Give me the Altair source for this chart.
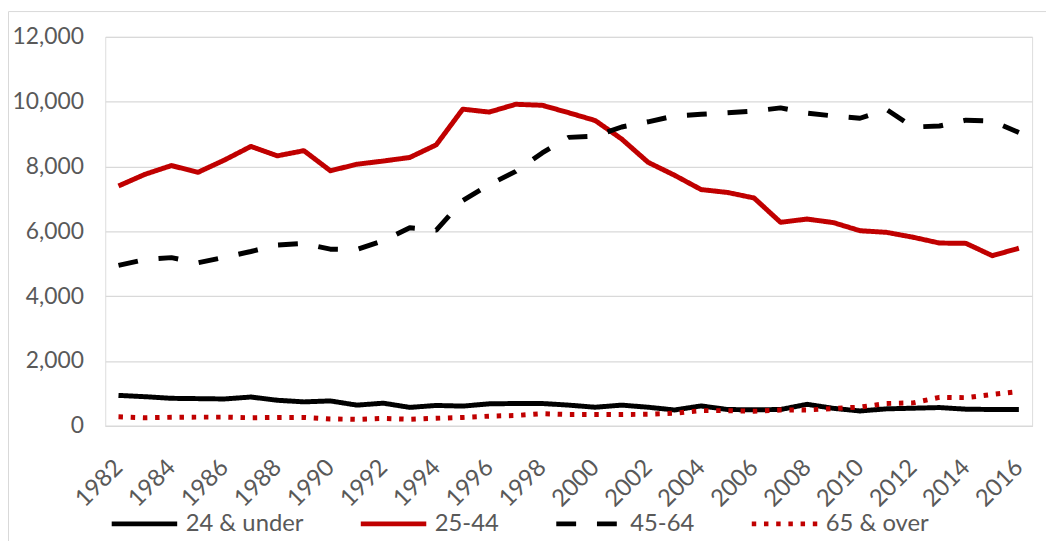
import altair as alt
import pandas as pd

years = list(range(1982, 2017))
series_names = ["24 & under", "25-44", "45-64", "65 & over"]

age_24_under = [940, 900, 850, 840, 830, 890, 790, 740, 770, 640, 700, 570, 630, 610, 680, 690, 690,
                640, 575, 640, 575, 490, 615, 505, 495, 505, 665, 540, 460, 525, 545, 565, 515, 505, 505]
age_25_44 = [7400, 7760, 8030, 7820, 8200, 8620, 8330, 8490, 7870, 8070, 8170, 8280, 8670, 9770, 9680,
             9920, 9890, 9660, 9420, 8850, 8130, 7730, 7290, 7200, 7030, 6280, 6380, 6270, 6020, 5970,
             5820, 5640, 5630, 5250, 5480]
age_45_64 = [4950, 5130, 5190, 5030, 5200, 5380, 5580, 5630, 5450, 5440, 5710, 6110, 6040, 6950, 7440,
             7850, 8420, 8900, 8940, 9220, 9380, 9560, 9610, 9660, 9710, 9810, 9650, 9560, 9490, 9760,
             9220, 9250, 9430, 9400, 9050]
age_65_over = [280, 250, 265, 270, 270, 250, 260, 260, 215, 200, 230, 205, 235, 260, 300, 320, 375,
               350, 350, 350, 360, 390, 470, 470, 450, 490, 490, 535, 580, 690, 710, 880, 870, 970, 1060]

axis_years = years[::2]
y_ticks = [0, 2000, 4000, 6000, 8000, 10000, 12000]

rows = []
for name, vals in zip(series_names, [age_24_under, age_25_44, age_45_64, age_65_over]):
    for yr, v in zip(years, vals):
        rows.append({"year": yr, "series": name, "value": v})
df = pd.DataFrame(rows)

FONT = "Lato"
TXT = "#595959"
GRID = "#d9d9d9"

legend = alt.Legend(
    orient="none", legendX=4, legendY=455, direction="horizontal", title=None,
    symbolType="stroke", symbolSize=4356, symbolStrokeWidth=5,
    labelFontSize=24, labelColor=TXT, labelFont=FONT, labelOffset=6,
    columnPadding=47, padding=0,
)

lines = alt.Chart(df).mark_line(strokeWidth=5, strokeJoin="round").encode(
    x=alt.X("year:O", title=None,
            scale=alt.Scale(type="point", padding=0.5),
            axis=alt.Axis(values=axis_years, labelAngle=-45, labelAlign="right",
                          labelBaseline="middle", labelFontSize=24, labelFont=FONT,
                          labelColor=TXT, ticks=False, domainColor=GRID, domainWidth=1.3,
                          labelPadding=38, grid=False)),
    y=alt.Y("value:Q", title=None,
            scale=alt.Scale(domain=[0, 12000], nice=False),
            axis=alt.Axis(values=y_ticks, format=",d",
                          labelFontSize=23, labelFont=FONT, labelColor=TXT, ticks=False,
                          domain=False, labelPadding=22, gridColor=GRID, gridWidth=1.3)),
    color=alt.Color("series:N", sort=series_names,
                    scale=alt.Scale(domain=series_names,
                                    range=["#000000", "#c00000", "#000000", "#c00000"]),
                    legend=legend),
    strokeDash=alt.StrokeDash("series:N", sort=series_names,
                              scale=alt.Scale(domain=series_names,
                                              range=[[1, 0], [1, 0], [20, 21], [4.5, 7.8]]),
                              legend=legend),
    order=alt.Order("year:O"),
)

border = alt.Chart(pd.DataFrame({"a": [0]})).mark_rect(
    fill=None, stroke=GRID, strokeWidth=1
).encode(
    x=alt.value(-97.5), x2=alt.value(960), y=alt.value(-25.5), y2=alt.value(600)
)

chart = alt.layer(border, lines).properties(
    width=934, height=392,
    autosize=alt.AutoSizeParams(type="none"),
    padding={"left": 98, "top": 27, "right": 14, "bottom": 124},
).configure_view(stroke=None).configure(background="white")

chart.save("out.html", embed_options={"renderer": "svg", "actions": False})
